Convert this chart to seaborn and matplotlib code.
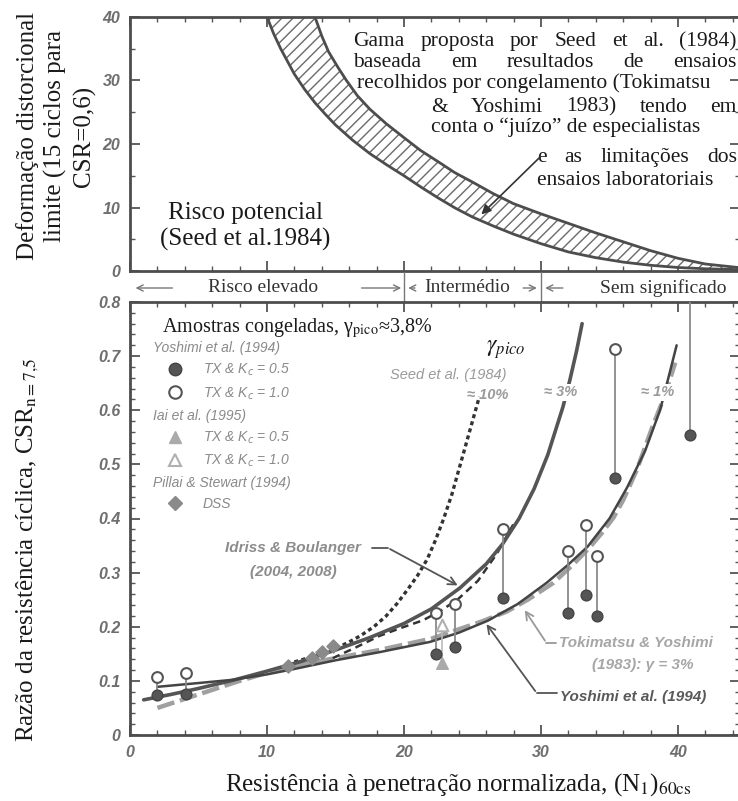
import numpy as np
import pandas as pd
import seaborn as sns
import matplotlib.pyplot as plt
import matplotlib.transforms as mtransforms
from matplotlib.lines import Line2D
from matplotlib.ticker import MultipleLocator

# ******************
# data
# ******************

# top panel: range proposed by Seed et al. (1984), limiting strain vs (N1)60cs
band_lower_n1 = [10.0, 10.5, 11.0, 11.5, 12.0, 12.75, 13.5, 14.25, 15.0, 16.25, 17.5, 18.75, 20.0,
                 21.25, 22.5, 23.75, 25.0, 26.5, 28.0, 30.0, 32.0, 34.0, 36.0, 38.0, 40.0, 42.0, 44.6]
band_lower_strain = [40.0, 37.3, 35.0, 33.0, 31.0, 28.6, 26.5, 24.7, 23.0, 20.6, 18.5, 16.7, 15.0,
                     13.2, 11.5, 9.9, 8.5, 7.1, 5.8, 4.3, 3.0, 2.1, 1.4, 0.9, 0.55, 0.35, 0.2]
band_upper_n1 = [13.5, 14.0, 14.5, 15.2, 15.8, 16.6, 17.5, 18.7, 20.0, 21.2, 22.5, 23.7, 25.0,
                 26.5, 28.0, 30.0, 32.0, 34.0, 36.0, 38.0, 40.0, 42.0, 44.6]
band_upper_strain = [40.0, 37.0, 34.5, 32.0, 30.0, 27.6, 25.5, 23.2, 21.0, 19.0, 17.2, 15.5, 14.0,
                     12.2, 10.6, 9.0, 7.5, 6.0, 4.6, 3.2, 2.0, 1.1, 0.5]

# bottom panel: curves
ib_n1 = [1.0, 3.0, 5.0, 7.5, 10.0, 12.5, 15.0, 17.5, 20.0, 22.0, 24.1, 26.0, 27.2, 28.4,
         29.5, 30.5, 31.6, 32.1, 32.6, 33.0]
ib_csr = [0.065, 0.075, 0.086, 0.101, 0.118, 0.136, 0.157, 0.18, 0.206, 0.233, 0.272, 0.316,
          0.353, 0.40, 0.455, 0.518, 0.606, 0.655, 0.71, 0.76]

seed10_n1 = [12.0, 13.5, 14.8, 16.0, 16.8, 17.8, 18.7, 19.5, 20.3, 21.0, 21.7, 22.3, 22.9,
             23.5, 24.0, 24.5, 25.0, 25.5]
seed10_csr = [0.135, 0.146, 0.157, 0.172, 0.183, 0.2, 0.22, 0.243, 0.27, 0.295, 0.325, 0.36,
              0.4, 0.445, 0.49, 0.535, 0.58, 0.625]

seed3_n1 = [14.8, 16.5, 18.2, 19.8, 21.4, 22.7, 23.9, 25.4, 26.8, 28.0]
seed3_csr = [0.142, 0.162, 0.183, 0.198, 0.212, 0.23, 0.25, 0.285, 0.336, 0.39]

yos94_n1 = [2.0, 5.0, 7.5, 10.0, 12.0, 15.0, 18.2, 21.9, 24.0, 26.1, 28.3, 30.4, 32.0, 33.4,
            35.0, 36.3, 37.6, 38.7, 39.3, 39.9]
yos94_csr = [0.089, 0.096, 0.102, 0.112, 0.122, 0.138, 0.153, 0.172, 0.189, 0.211, 0.242, 0.281,
             0.315, 0.348, 0.4, 0.458, 0.525, 0.601, 0.66, 0.72]

tok_n1 = [2.0, 5.0, 8.0, 11.5, 15.0, 18.0, 22.0, 25.7, 27.5, 29.1, 30.9, 32.3, 33.5, 34.5,
          35.3, 36.0, 37.0, 38.1, 39.0, 39.8]
tok_csr = [0.05, 0.075, 0.1, 0.126, 0.142, 0.156, 0.178, 0.21, 0.228, 0.251, 0.281, 0.314,
           0.345, 0.375, 0.402, 0.434, 0.49, 0.567, 0.625, 0.688]

# bottom panel: test results
yos_n1 = [2.0, 4.1, 22.3, 23.7, 27.2, 32.0, 33.3, 34.1, 35.4, 40.9]
yos_k05 = [0.074, 0.076, 0.150, 0.163, 0.253, 0.226, 0.259, 0.220, 0.475, 0.555]
yos_k10 = [0.107, 0.115, 0.226, 0.242, 0.381, 0.340, 0.388, 0.331, 0.713, 0.86]
iai_n1 = [22.8]
iai_k05 = [0.133]
iai_k10 = [0.203]
dss_n1 = [11.5, 13.3, 14.0, 14.8]
dss_csr = [0.128, 0.142, 0.153, 0.165]

x_ticks = [0, 10, 20, 30, 40]
strain_ticks = [0, 10, 20, 30, 40]
csr_ticks = [0, 0.1, 0.2, 0.3, 0.4, 0.5, 0.6, 0.7, 0.8]
csr_labels = ['0', '0.1', '0.2', '0.3', '0.4', '0.5', '0.6', '0.7', '0.8']

# ******************
# setup
# ******************

sns.set_theme(style='white')
plt.rcParams['font.family'] = ['Liberation Sans', 'DejaVu Sans']
plt.rcParams['hatch.linewidth'] = 1.0

SERIF = ['Liberation Serif', 'DejaVu Serif']
SANS = ['Liberation Sans', 'DejaVu Sans']
W, H = 738, 801
PX_PER_N = 13.7
X_MAX = 44.5

fig = plt.figure(figsize=(W / 100, H / 100), dpi=100)


def fx(px):
    return px / W


def fy(py):
    return 1 - py / H


ax_w = X_MAX * PX_PER_N / W
ax1 = fig.add_axes([fx(130), fy(271), ax_w, (271 - 17) / H])
ax2 = fig.add_axes([fx(130), fy(735), ax_w, (735 - 302) / H])

tick_font = dict(fontweight='bold', fontstyle='italic', fontsize=11.5, color='#6e6e6e')


def style_axes(ax):
    for s in ax.spines.values():
        s.set_color('#4d4d4d')
        s.set_linewidth(2.0)
    ax.tick_params(which='both', direction='in', top=True, right=True,
                   bottom=True, left=True, color='#555555')
    ax.tick_params(which='major', length=7, width=1.3, pad=7)
    ax.tick_params(which='minor', length=3.5, width=1.0)


# ******************
# top panel
# ******************

style_axes(ax1)
ax1.set_xlim(0, X_MAX)
ax1.set_ylim(0, 40)
ax1.set_xticks(x_ticks)
ax1.tick_params(labelbottom=False)
ax1.xaxis.set_minor_locator(MultipleLocator(2))
ax1.set_yticks(strain_ticks, [str(t) for t in strain_ticks], **tick_font)
ax1.yaxis.set_minor_locator(MultipleLocator(5))

poly_x = band_lower_n1 + band_upper_n1[::-1]
poly_y = band_lower_strain + band_upper_strain[::-1]
ax1.fill(poly_x, poly_y, facecolor='white', edgecolor='#6a6a6a', hatch='///', lw=0, zorder=1)
sns.lineplot(x=band_lower_n1, y=band_lower_strain, ax=ax1, color='#4d4d4d', lw=2.0,
             estimator=None, sort=False, zorder=2)
sns.lineplot(x=band_upper_n1, y=band_upper_strain, ax=ax1, color='#4d4d4d', lw=2.0,
             estimator=None, sort=False, zorder=2)

serif_big = dict(family=SERIF, fontsize=18, color='#1a1a1a')
ax1.text(8.4, 9.1, 'Risco potencial', ha='center', va='center', **serif_big)
ax1.text(8.4, 4.9, '(Seed et al.1984)', ha='center', va='center', **serif_big)

renderer = fig.canvas.get_renderer()


def justify(ax, line, x0, x1, y, **kw):
    words = line.split()
    texts = [ax.text(x0, y, w, ha='left', va='center', **kw) for w in words]
    widths = [t.get_window_extent(renderer).width for t in texts]
    p0 = ax.transData.transform((x0, y))[0]
    p1 = ax.transData.transform((x1, y))[0]
    gap = (p1 - p0 - sum(widths)) / max(len(words) - 1, 1)
    pos = p0
    inv = ax.transData.inverted()
    for t, w in zip(texts, widths):
        t.set_x(inv.transform((pos, 0))[0])
        pos += w + gap


gama = dict(family=SERIF, fontsize=15.5, color='#1a1a1a')
justify(ax1, 'Gama proposta por Seed et al. (1984)', 16.3, 44.3, 36.1, **gama)
justify(ax1, 'baseada em resultados de ensaios', 16.3, 44.3, 32.8, **gama)
ax1.text(16.6, 29.6, 'recolhidos por congelamento (Tokimatsu', ha='left', va='center', **gama)
justify(ax1, '& Yoshimi 1983) tendo em', 22.0, 44.3, 25.8, **gama)
ax1.text(22.0, 22.7, 'conta o \u201cju\u00edzo\u201d de especialistas', ha='left', va='center', **gama)
justify(ax1, 'e as limita\u00e7\u00f5es dos', 29.7, 44.3, 17.8, **gama)
ax1.text(29.7, 14.3, 'ensaios laboratoriais', ha='left', va='center', **gama)

ax1.annotate('', xy=(25.5, 8.6), xytext=(30.1, 18.3),
             arrowprops=dict(arrowstyle='-|>', color='#333333', lw=1.2, mutation_scale=14))

# ******************
# band between panels
# ******************

trans = mtransforms.blended_transform_factory(ax2.transData, fig.transFigure)
yb = fy(288)
band_arrow = dict(arrowstyle='->', color='#777777', lw=1.0, mutation_scale=11)
for tail, head in [(3.3, 0.2), (16.7, 20.0), (21.0, 20.1), (28.5, 29.9), (31.8, 30.1)]:
    ax2.annotate('', xy=(head, yb), xytext=(tail, yb), xycoords=trans, textcoords=trans,
                 arrowprops=band_arrow, annotation_clip=False)
for xb in [20, 30]:
    ax2.plot([xb, xb], [fy(272), fy(302)], transform=trans, color='#777777', lw=1.0, clip_on=False)
band_font = dict(family=SERIF, fontsize=14, color='#333333', ha='center', va='center',
                 transform=trans)
ax2.text(9.7, yb, 'Risco elevado', **band_font)
ax2.text(24.6, yb, 'Interm\u00e9dio', **band_font)
ax2.text(38.9, yb, 'Sem significado', **band_font)

# ******************
# bottom panel
# ******************

style_axes(ax2)
ax2.set_xlim(0, X_MAX)
ax2.set_ylim(0, 0.8)
ax2.set_xticks(x_ticks, [str(t) for t in x_ticks], **tick_font)
ax2.xaxis.set_minor_locator(MultipleLocator(2))
ax2.set_yticks(csr_ticks, csr_labels, **tick_font)
ax2.yaxis.set_minor_locator(MultipleLocator(0.02))
ax2.spines['right'].set_color('#999999')
ax2.spines['right'].set_linewidth(1.0)

line_kw = dict(ax=ax2, estimator=None, sort=False)
sns.lineplot(x=tok_n1, y=tok_csr, color='#a0a0a0', lw=3.2, linestyle=(0, (4, 1.3)), zorder=2, **line_kw)
sns.lineplot(x=seed3_n1, y=seed3_csr, color='#333333', lw=1.8, linestyle=(0, (3, 2)), zorder=3, **line_kw)
sns.lineplot(x=seed10_n1, y=seed10_csr, color='#333333', lw=2.4, linestyle=(0, (1.2, 1.0)), zorder=3, **line_kw)
sns.lineplot(x=ib_n1, y=ib_csr, color='#555555', lw=2.6, zorder=3, **line_kw)
sns.lineplot(x=yos94_n1, y=yos94_csr, color='#444444', lw=1.8, zorder=3, **line_kw)

# stems between Kc = 0.5 and Kc = 1.0 results
ax2.vlines(yos_n1, yos_k05, yos_k10, color='#8a8a8a', lw=1.3, zorder=4)
ax2.vlines(iai_n1, iai_k05, iai_k10, color='#bbbbbb', lw=1.2, zorder=4)

sns.scatterplot(x=yos_n1, y=yos_k05, ax=ax2, marker='o', s=60, color='#555555',
                edgecolor='#444444', linewidth=1.0, zorder=6)
sns.scatterplot(x=yos_n1, y=yos_k10, ax=ax2, marker='o', s=60, color='white',
                edgecolor='#555555', linewidth=1.5, zorder=6)
sns.scatterplot(x=iai_n1, y=iai_k05, ax=ax2, marker='^', s=70, color='#aaaaaa',
                edgecolor='#aaaaaa', linewidth=1.0, zorder=6)
sns.scatterplot(x=iai_n1, y=iai_k10, ax=ax2, marker='^', s=70, color='white',
                edgecolor='#b0b0b0', linewidth=1.5, zorder=6)
sns.scatterplot(x=dss_n1, y=dss_csr, ax=ax2, marker='D', s=45, color='#8a8a8a',
                edgecolor='#8a8a8a', linewidth=1.0, zorder=6)

# curve labels
lbl = dict(family=SANS, fontstyle='italic', fontweight='bold', fontsize=10.5,
           color='#9a9a9a', ha='center', va='center', zorder=5)
white_box = dict(facecolor='white', edgecolor='none', pad=1.0)
ax2.text(31.4, 0.633, '\u2248 3%', bbox=white_box, **lbl)
ax2.text(38.5, 0.633, '\u2248 1%', bbox=white_box, **lbl)
ax2.text(23.2, 0.665, 'Seed et al. (1984)', **{**lbl, 'fontweight': 'normal'})
ax2.text(27.6, 0.628, '\u2248 10%', **{**lbl, 'ha': 'right'})
ax2.text(27.4, 0.712, r'$\gamma_{pico}$', ha='center', va='center', fontsize=17,
         color='#1a1a1a', math_fontfamily='stix')
ax2.text(2.3, 0.752, 'Amostras congeladas, \u03b3$_{\\mathrm{pico}}$\u22483,8%', ha='left',
         va='center', family=SERIF, fontsize=14.5, color='#1a1a1a', math_fontfamily='stix')

ann = dict(family=SANS, fontstyle='italic', fontweight='bold', fontsize=11, va='center')
ax2.text(11.9, 0.346, 'Idriss & Boulanger', ha='center', color='#8c8c8c', **ann)
ax2.text(11.9, 0.301, '(2004, 2008)', ha='center', color='#8c8c8c', **ann)
ax2.plot([17.7, 18.8], [0.346, 0.346], color='#555555', lw=1.3)
ax2.annotate('', xy=(24.1, 0.274), xytext=(18.8, 0.346),
             arrowprops=dict(arrowstyle='->', color='#555555', lw=1.3, mutation_scale=14))

ax2.text(31.3, 0.17, 'Tokimatsu & Yoshimi', ha='left', color='#a6a6a6', **ann)
ax2.text(33.7, 0.129, '(1983): \u03b3 = 3%', ha='left', color='#a6a6a6', **ann)
ax2.plot([31.1, 30.4], [0.17, 0.17], color='#999999', lw=1.3)
ax2.annotate('', xy=(28.7, 0.235), xytext=(30.4, 0.17),
             arrowprops=dict(arrowstyle='->', color='#999999', lw=1.3, mutation_scale=14))

ax2.text(31.4, 0.07, 'Yoshimi et al. (1994)', ha='left', color='#5a5a5a', **ann)
ax2.plot([31.2, 29.7], [0.077, 0.077], color='#555555', lw=1.3)
ax2.annotate('', xy=(25.9, 0.209), xytext=(29.7, 0.077),
             arrowprops=dict(arrowstyle='->', color='#555555', lw=1.3, mutation_scale=14))

# legend (headers shifted left after creation)
grey_leg = '#8a8a8a'
handles = [
    Line2D([], [], ls='none'),
    Line2D([], [], marker='o', ls='none', ms=9, mfc='#555555', mec='#444444'),
    Line2D([], [], marker='o', ls='none', ms=9, mfc='white', mec='#555555', mew=1.5),
    Line2D([], [], ls='none'),
    Line2D([], [], marker='^', ls='none', ms=9, mfc='#aaaaaa', mec='#aaaaaa'),
    Line2D([], [], marker='^', ls='none', ms=9, mfc='white', mec='#b0b0b0', mew=1.5),
    Line2D([], [], ls='none'),
    Line2D([], [], marker='D', ls='none', ms=7, mfc='#8a8a8a', mec='#8a8a8a'),
]
labels = ['Yoshimi et al. (1994)', 'TX & K$_c$ = 0.5', 'TX & K$_c$ = 1.0',
          'Iai et al. (1995)', 'TX & K$_c$ = 0.5', 'TX & K$_c$ = 1.0',
          'Pillai & Stewart (1994)', 'DSS']
leg = ax2.legend(handles, labels, loc='upper left',
                 bbox_to_anchor=((164 - 130) / (X_MAX * PX_PER_N), (735 - 341) / 433),
                 frameon=False, borderpad=0, borderaxespad=0, handlelength=1.6,
                 handletextpad=1.2, labelspacing=0.5,
                 prop=dict(family=SANS, style='italic', size=10))
for i, t in enumerate(leg.get_texts()):
    t.set_color(grey_leg)
    if i in (0, 3, 6):
        t.set_x(-50)

# axis titles
fig.text(fx(56), fy(136), 'Deforma\u00e7\u00e3o distorcional\nlimite (15 ciclos para\nCSR=0,6)',
         rotation=90, ha='center', va='center', multialignment='center',
         family=SERIF, fontsize=18, color='#1a1a1a', linespacing=1.3)
fig.text(fx(28), fy(550), 'Raz\u00e3o da resist\u00eancia c\u00edclica, CSR$_{\\mathrm{n=7{,}5}}$',
         rotation=90, ha='center', va='center', family=SERIF, fontsize=18,
         color='#1a1a1a', math_fontfamily='stix')
fig.text(fx(458), fy(785), 'Resist\u00eancia \u00e0 penetra\u00e7\u00e3o normalizada, (N$_{\\mathrm{1}}$)$_{\\mathrm{60cs}}$',
         ha='center', va='center', family=SERIF, fontsize=18, color='#1a1a1a',
         math_fontfamily='stix')

plt.savefig('out.png', dpi=100)
